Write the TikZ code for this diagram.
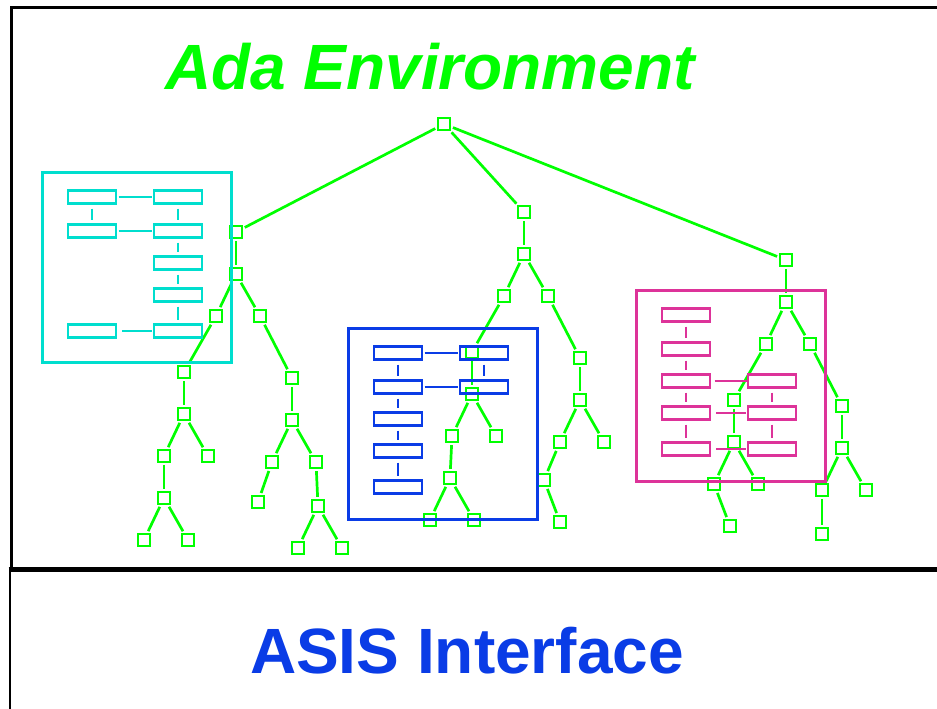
\documentclass[tikz,border=0pt]{standalone}
\usepackage{fontspec}
\setmainfont{Liberation Sans}
\definecolor{tgreen}{RGB}{0,255,0}
\definecolor{tcyan}{RGB}{0,222,206}
\definecolor{tblue}{RGB}{10,60,230}
\definecolor{tmag}{RGB}{221,51,153}
\begin{document}
\begin{tikzpicture}[x=1pt,y=-1pt,
  tn/.style={draw=tgreen,line width=2.5pt,minimum size=12.3pt,inner sep=0pt,outer sep=0pt},
  te/.style={draw=tgreen,line width=2.7pt,shorten <=3pt,shorten >=3pt},
  mb/.style={draw=#1,line width=2.8pt,minimum width=48pt,minimum height=13pt,inner sep=0pt,outer sep=0pt},
  frame/.style={draw=#1,line width=3pt},
  vl/.style={draw=#1,line width=2.8pt,shorten <=5pt,shorten >=5pt},
  hl/.style={draw=#1,line width=2.8pt,shorten <=2.5pt,shorten >=2.5pt}]
\useasboundingbox (0,0) rectangle (937,709);
\fill[white] (0,0) rectangle (937,709);
% frames
\draw[line width=2.2pt] (11.5,569) -- (11.5,7.5) -- (937,7.5);
\draw[line width=2pt] (9.5,571) -- (9.5,709);
\draw[line width=4.5pt] (8.5,569.5) -- (937,569.5);
% titles
\node[text=tgreen,font=\fontsize{64}{64}\selectfont\bfseries\itshape,anchor=base,inner sep=0pt] (title) at (430,89) {Ada Environment};
\node[text=tblue,font=\fontsize{64}{64}\selectfont\bfseries,anchor=base,inner sep=0pt] (asis) at (467,673) {ASIS Interface};
% tree nodes
\foreach \n/\x/\y in {r/444/124,a/236/232,b/524/212,c/786/260,
 a1/236/274,a2/216/316,a3/260/316,a4/184/372,a5/184/414,a6/164/456,a7/208/456,a8/164/498,a9/144/540,a10/188/540,
 a11/292/378,a12/292/420,a13/272/462,a14/316/462,a15/258/502,a16/318/506,a17/298/548,a18/342/548,
 b1/524/254,b2/504/296,b3/548/296,b4/472/352,b5/472/394,b6/452/436,b7/496/436,b8/450/478,b9/430/520,b10/474/520,
 b11/580/358,b12/580/400,b13/560/442,b14/604/442,b15/544/480,b16/560/522,
 c1/786/302,c2/766/344,c3/810/344,c4/734/400,c5/734/442,c6/714/484,c7/758/484,c8/730/526,
 c9/842/406,c10/842/448,c11/822/490,c12/866/490,c13/822/534}
  \node[tn] (\n) at (\x,\y) {};
\foreach \p/\q in {r/a,r/b,r/c,
 a/a1,a1/a2,a1/a3,a2/a4,a4/a5,a5/a6,a5/a7,a6/a8,a8/a9,a8/a10,a3/a11,a11/a12,a12/a13,a12/a14,a13/a15,a14/a16,a16/a17,a16/a18,
 b/b1,b1/b2,b1/b3,b2/b4,b4/b5,b5/b6,b5/b7,b6/b8,b8/b9,b8/b10,b3/b11,b11/b12,b12/b13,b12/b14,b13/b15,b15/b16,
 c/c1,c1/c2,c1/c3,c2/c4,c4/c5,c5/c6,c5/c7,c6/c8,c3/c9,c9/c10,c10/c11,c10/c12,c11/c13}
  \draw[te] (\p) -- (\q);
% cyan module box
\draw[frame=tcyan] (42.5,172.5) rectangle (231.5,362.5);
\foreach \n/\x/\y in {cl1/92/197,cl2/92/231,cl5/92/331,cr1/178/197,cr2/178/231,cr3/178/263,cr4/178/295,cr5/178/331}
  \node[mb=tcyan] (\n) at (\x,\y) {};
\draw[hl=tcyan] (cl1) -- (cr1);
\draw[hl=tcyan] (cl2) -- (cr2);
\draw[hl=tcyan,shorten <=6pt] (cl5) -- (cr5);
\foreach \p/\q in {cl1/cl2,cr1/cr2,cr2/cr3,cr3/cr4,cr4/cr5}
  \draw[vl=tcyan] (\p) -- (\q);
% blue module box
\draw[frame=tblue] (348.5,328.5) rectangle (537.5,519.5);
\foreach \n/\x/\y in {bl1/398/353,bl2/398/387,bl3/398/419,bl4/398/451,bl5/398/487,br1/484/353,br2/484/387}
  \node[mb=tblue] (\n) at (\x,\y) {};
\draw[hl=tblue] (bl1) -- (br1);
\draw[hl=tblue] (bl2) -- (br2);
\foreach \p/\q in {bl1/bl2,bl2/bl3,bl3/bl4,bl4/bl5,br1/br2}
  \draw[vl=tblue] (\p) -- (\q);
% magenta module box
\draw[frame=tmag] (636.5,290.5) rectangle (825.5,481);
\foreach \n/\x/\y in {ml1/686/315,ml2/686/349,ml3/686/381,ml4/686/413,ml5/686/449,mr3/772/381,mr4/772/413,mr5/772/449}
  \node[mb=tmag] (\n) at (\x,\y) {};
\draw[hl=tmag,shorten <=4.5pt,shorten >=1.5pt] (ml3) -- (mr3);
\draw[hl=tmag,shorten <=6pt,shorten >=2.5pt] (ml4) -- (mr4);
\draw[hl=tmag,shorten <=6pt,shorten >=2.5pt] (ml5) -- (mr5);
\foreach \p/\q in {ml1/ml2,ml2/ml3,ml3/ml4,ml4/ml5,mr3/mr4,mr4/mr5}
  \draw[vl=tmag] (\p) -- (\q);
\end{tikzpicture}
\end{document}
